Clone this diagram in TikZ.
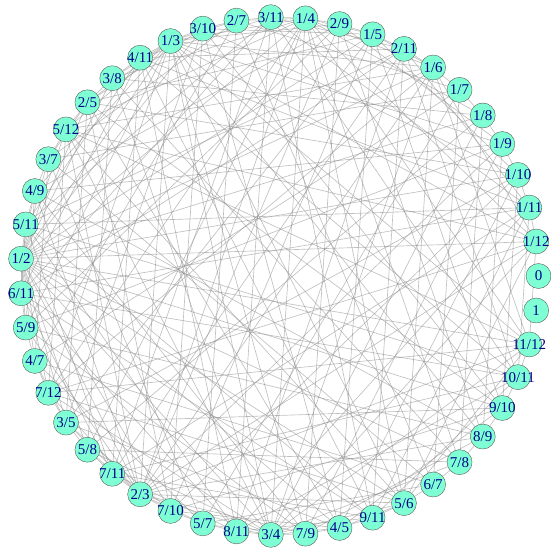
\documentclass[tikz,border=0pt]{standalone}
\usepackage{fontspec}
\setmainfont{Liberation Serif}
\usetikzlibrary{backgrounds}
\definecolor{aqua}{HTML}{7FFFD4}
\definecolor{labelblue}{HTML}{00008B}
\tikzset{
  frac/.style={draw=black!65, circle, fill=aqua, text=labelblue, minimum size=25pt,
    inner sep=0pt, font=\fontsize{15}{15}\selectfont},
  link/.style={draw=black!45, line width=0.65pt, opacity=0.55}
}
% fractions in increasing order, 0 and 1 included
\newcommand{\fracs}{0/1,1/12,1/11,1/10,1/9,1/8,1/7,1/6,2/11,1/5,2/9,1/4,3/11,2/7,3/10,1/3,4/11,3/8,2/5,5/12,3/7,4/9,5/11,1/2,6/11,5/9,4/7,7/12,3/5,5/8,7/11,2/3,7/10,5/7,8/11,3/4,7/9,4/5,9/11,5/6,6/7,7/8,8/9,9/10,10/11,11/12,1/1}

\begin{document}
\begin{tikzpicture}[x=1pt,y=1pt]
\useasboundingbox (-279.5,-274) rectangle (271.5,276);
\foreach \p/\q [count=\i] in \fracs {
  \pgfmathsetmacro\ang{(\i-1)*(360/47)}
  \ifnum\q=1 \def\lab{\p}\else\def\lab{\p/\q}\fi
  \node[frac] (f\i) at (\ang:259pt) {\makebox[0pt]{\lab}};
}
% a link when the difference is again in the list, or for Farey neighbours
\begin{scope}[on background layer]
\foreach \p/\q [count=\i] in \fracs {
  \foreach \r/\s [count=\j] in \fracs {
    \ifnum\j>\i
      \ifnum\q>1 \ifnum\s>1
        \pgfmathtruncatemacro\nn{abs(\p*\s-\r*\q)}
        \pgfmathtruncatemacro\dd{\q*\s/gcd(\nn,\q*\s)}
        \ifnum\dd<13 \draw[link] (f\i) -- (f\j);
        \else\ifnum\nn=1 \draw[link] (f\i) -- (f\j); \fi\fi
      \fi\fi
    \fi
  }
}
\end{scope}
\end{tikzpicture}
\end{document}
